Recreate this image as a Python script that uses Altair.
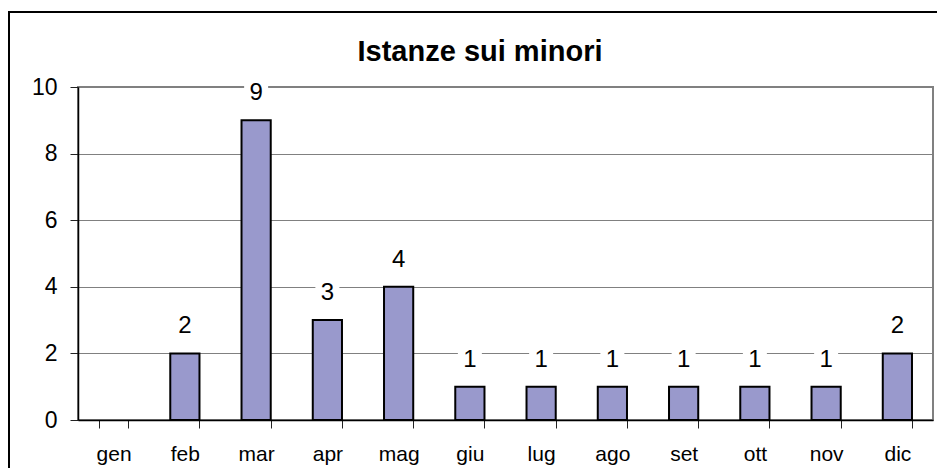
import altair as alt
import pandas as pd

months = ["gen", "feb", "mar", "apr", "mag", "giu", "lug", "ago", "set", "ott", "nov", "dic"]
values = [None, 2, 9, 3, 4, 1, 1, 1, 1, 1, 1, 2]
y_ticks = [0, 2, 4, 6, 8, 10]
title_text = "Istanze sui minori"

df = pd.DataFrame({"month": months, "value": values})

FONT = "Liberation Sans"

x_scale = alt.Scale(domain=months, paddingInner=0.59, paddingOuter=0.295)

x_enc = alt.X(
    "month:N",
    title=None,
    scale=x_scale,
    axis=alt.Axis(
        labelFontSize=21,
        labelFont=FONT,
        labelColor="black",
        labelAngle=0,
        labelBaseline="alphabetic",
        labelPadding=32,
        tickBand="extent",
        tickSize=8,
        tickColor="#222222",
        tickWidth=1,
        domainColor="black",
        domainWidth=1.5,
        grid=False,
    ),
)
y_enc = alt.Y(
    "value:Q",
    title=None,
    scale=alt.Scale(domain=[0, 10], nice=False),
    axis=alt.Axis(
        values=y_ticks,
        labelFontSize=23,
        labelFont=FONT,
        labelColor="black",
        labelPadding=13,
        tickSize=8,
        tickColor="#222222",
        domainColor="black",
        domainWidth=1.5,
        gridColor="#808080",
        gridWidth=1,
    ),
)

base = alt.Chart(df).transform_filter("isValid(datum.value) && datum.value > 0")

border = alt.Chart(alt.Data(values=[{}])).mark_rect(
    filled=False, stroke="black", strokeWidth=2
).encode(
    x=alt.value(-69), x2=alt.value(900), y=alt.value(-75), y2=alt.value(420)
)

title = alt.Chart(alt.Data(values=[{"t": title_text}])).mark_text(
    font=FONT, fontSize=29, fontWeight="bold", color="black",
    align="center", baseline="alphabetic"
).encode(x=alt.value(402), y=alt.value(-26), text="t:N")

bars = base.mark_bar(fill="#9999CC", stroke="black", strokeWidth=2).encode(
    x=x_enc, y=y_enc
)

boxes = base.mark_square(
    size=24 * 24, filled=True, color="white", opacity=1, yOffset=-27
).encode(x=alt.X("month:N", scale=x_scale), y=alt.Y("value:Q"))

labels = base.mark_text(
    dy=-27, fontSize=24, font=FONT, baseline="middle", color="black"
).encode(x=alt.X("month:N", scale=x_scale), y=alt.Y("value:Q"), text="value:Q")

chart = alt.layer(border, title, bars, boxes, labels).properties(
    width=855,
    height=333,
    autosize=alt.AutoSizeParams(type="none"),
    padding={"left": 70, "top": 79, "right": 4, "bottom": 48},
).configure(background="white").configure_view(
    stroke="#808080", strokeWidth=2
)

chart.save("out.html", embed_options={"renderer": "svg", "actions": False})
